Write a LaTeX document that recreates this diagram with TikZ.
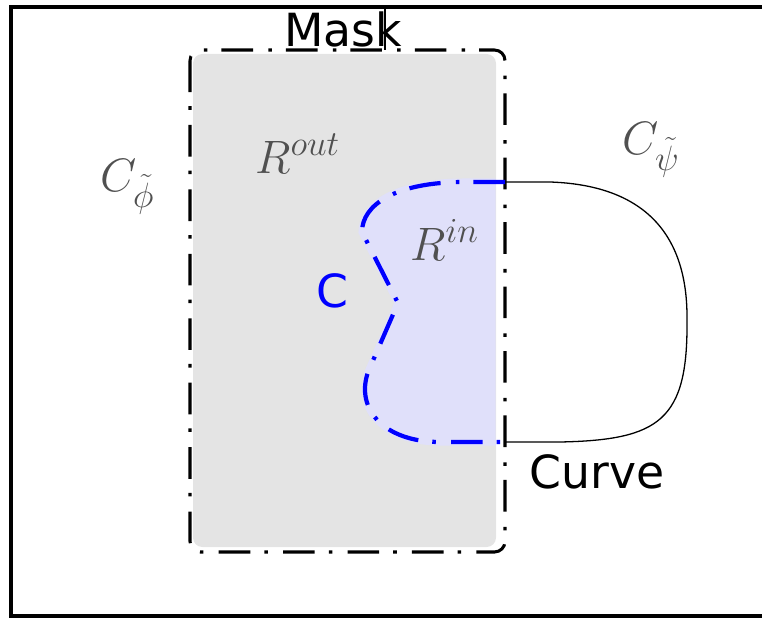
\documentclass[tikz,border=0pt]{standalone}
\usepackage{fix-cm}
\usepackage{fontspec}
\newfontfamily\labelsans{DejaVu Sans}
\DeclareMathSizes{40}{40}{30}{22}
\definecolor{maskgray}{RGB}{228,228,228}
\definecolor{inblue}{RGB}{224,224,250}
\definecolor{mathgray}{RGB}{80,80,80}
\tikzset{
  frameline/.style={line width=2.6pt, line cap=butt},
  maskline/.style={line width=2.6pt, rounded corners=9, dash pattern=on 27pt off 12pt on 3pt off 13pt},
  cline/.style={blue, line width=3.6pt, dash pattern=on 27pt off 12pt on 3pt off 13pt},
  curveline/.style={black, line width=1.1pt},
  sanslbl/.style={inner sep=0pt, font=\labelsans\fontsize{39}{39}\selectfont},
  mathlbl/.style={inner sep=0pt, text=mathgray, font=\fontsize{40}{40}\selectfont},
}
\begin{document}
\begin{tikzpicture}[x=0.03cm, y=-0.03cm]
\useasboundingbox (0,0) rectangle (762,620);
% outer frame
\draw[frameline] (762,7) -- (11,7) -- (11,616) -- (762,616);
% mask region fill
\fill[maskgray, rounded corners=8] (193,54) rectangle (496,547);
% R^in fill
\path[fill=inblue, draw=inblue, line width=6pt]
  (492,182) -- (465,182) .. controls (395,182) and (362,205) .. (362,232)
  -- (398,303) -- (368,372) .. controls (355,410) and (385,442) .. (440,442)
  -- (492,442) -- cycle;
% mask outline
\coordinate (mtl) at (190,50);
\coordinate (mbr) at (505,552);
\draw[maskline] (mtl) rectangle (mbr);
% connection points on the mask line
\coordinate (ptop) at (505,182);
\coordinate (pbot) at (505,442);
% curve C
\draw[cline] (ptop) -- (465,182) .. controls (395,182) and (362,205) .. (362,232)
  -- (398,303) -- (368,372) .. controls (355,410) and (385,442) .. (440,442) -- (pbot);
% outer curve
\draw[curveline] (ptop) -- (550,182) .. controls (640,185) and (688,230) .. (687,320)
  .. controls (688,420) and (660,440) .. (560,442) -- (pbot);
% labels
\node[sanslbl, anchor=base] (mask) at (343,47) {Mask};
\coordinate (framepoint) at (385,7);
\coordinate (maskpoint) at (385,50);
\draw[line width=1.1pt] (framepoint) -- (maskpoint);
\node[sanslbl, anchor=base] (curve) at (597,488) {Curve};
\node[sanslbl, anchor=base, text=blue] (clbl) at (332,307) {C};
\node[mathlbl, anchor=base west] (rout) at (255,173) {$R^{out}$};
\node[mathlbl, anchor=base west] (rin) at (410,260) {$R^{in}$};
\node[mathlbl, anchor=base west] (cphi) at (100,191) {$C_{\tilde\phi}$};
\node[mathlbl, anchor=base west] (cpsi) at (622,154) {$C_{\tilde\psi}$};
\end{tikzpicture}
\end{document}
